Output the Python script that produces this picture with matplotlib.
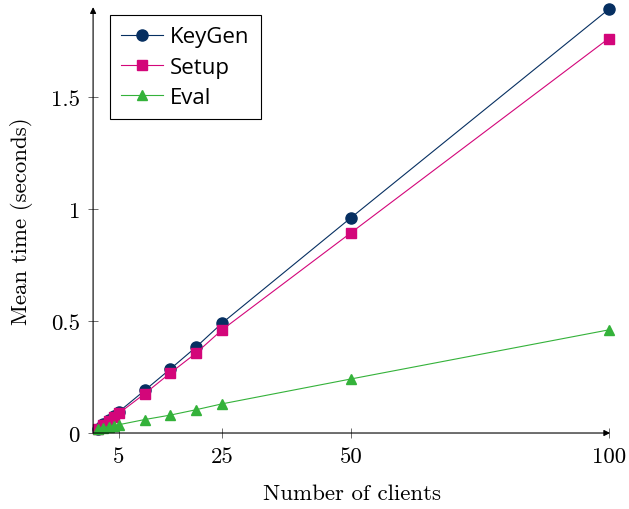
import numpy as np
import matplotlib
matplotlib.use("Agg")
from matplotlib import pyplot as plt

clients = [1, 2, 3, 4, 5, 10, 15, 20, 25, 50, 100]
keygen = [0.019, 0.038, 0.057, 0.076, 0.095, 0.19, 0.286, 0.384, 0.49, 0.96, 1.89]
setup = [0.018, 0.035, 0.053, 0.071, 0.088, 0.175, 0.268, 0.357, 0.46, 0.893, 1.76]
evals = [0.02, 0.024, 0.028, 0.032, 0.037, 0.06, 0.08, 0.104, 0.13, 0.241, 0.46]

xticks = [5, 25, 50, 100]
yticks = [0, 0.5, 1, 1.5]
yticklabels = ["0", "0.5", "1", "1.5"]

plt.rcParams['font.family'] = 'cmr10'
plt.rcParams['mathtext.fontset'] = 'cm'
plt.rcParams['axes.formatter.use_mathtext'] = True

fig = plt.figure(figsize=(6.29, 5.10), dpi=100)
ax = fig.add_axes([0.148, 0.149, 0.822, 0.835])

ax.plot(clients, keygen, color='#062f61', lw=0.8, marker='o', ms=8, label='KeyGen', clip_on=False)
ax.plot(clients, setup, color='#d3067a', lw=0.8, marker='s', ms=7.5, label='Setup', clip_on=False)
ax.plot(clients, evals, color='#34b23a', lw=0.8, marker='^', ms=7, label='Eval', clip_on=False)

ax.set_xlim(0, 100.3)
ax.set_ylim(0, 1.9)
ax.set_xticks(xticks)
ax.set_xticklabels([str(t) for t in xticks])
ax.set_yticks(yticks)
ax.set_yticklabels(yticklabels)
ax.tick_params(direction='inout', length=7, width=0.6, color='#555555', labelsize=16.5, pad=6)

for s in ax.spines.values():
    s.set_visible(False)
# axis lines with arrow heads
ax.annotate('', xy=(1.0, 0), xytext=(0, 0), xycoords='axes fraction',
            arrowprops=dict(arrowstyle='-|>', lw=0.8, color='black', mutation_scale=9, shrinkA=0, shrinkB=0))
ax.annotate('', xy=(0, 1.0), xytext=(0, 0), xycoords='axes fraction',
            arrowprops=dict(arrowstyle='-|>', lw=0.8, color='black', mutation_scale=9, shrinkA=0, shrinkB=0))

ax.set_xlabel('Number of clients', fontsize=16.5, labelpad=13)
ax.set_ylabel('Mean time (seconds)', fontsize=16.5, labelpad=13)

leg = ax.legend(loc='upper left', bbox_to_anchor=(0.033, 0.981), prop={'family': 'Open Sans', 'size': 16},
                fancybox=False, edgecolor='black', framealpha=1, handlelength=1.9,
                borderpad=0.5, labelspacing=0.42, handletextpad=0.3, borderaxespad=0)
leg.get_frame().set_linewidth(0.8)

fig.savefig('out.png', dpi=100)
